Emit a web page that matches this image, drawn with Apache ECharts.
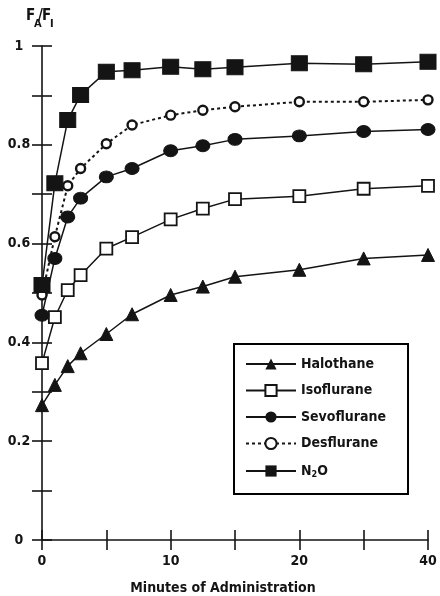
<!DOCTYPE html>
<html>
<head>
<meta charset="utf-8">
<script src="https://cdn.jsdelivr.net/npm/echarts@6/dist/echarts.min.js"></script>
<style>
  html, body { margin: 0; padding: 0; background: #fff; }
  #chart { width: 440px; height: 596px; }
</style>
</head>
<body>
<div id="chart"></div>
<script>
// Uptake of inhaled anaesthetics: alveolar / inspired fraction over time
const minutes     = [0, 1, 2, 3, 5, 7, 10, 12.5, 15, 20, 30, 40];
const halothane   = [0.273, 0.314, 0.352, 0.378, 0.417, 0.457, 0.496, 0.513, 0.533, 0.547, 0.570, 0.577];
const isoflurane  = [0.358, 0.451, 0.506, 0.536, 0.590, 0.613, 0.649, 0.671, 0.690, 0.696, 0.711, 0.717];
const sevoflurane = [0.455, 0.570, 0.654, 0.692, 0.735, 0.752, 0.788, 0.798, 0.811, 0.818, 0.827, 0.831];
const desflurane  = [0.496, 0.614, 0.717, 0.752, 0.802, 0.840, 0.860, 0.870, 0.877, 0.887, 0.887, 0.891];
const nitrousOxide = [0.516, 0.722, 0.850, 0.901, 0.948, 0.951, 0.958, 0.953, 0.957, 0.965, 0.963, 0.968];

const xTickLabels = { 0: '0', 10: '10', 20: '20', 40: '40' };
const yTickLabels = ['0', '0.2', '0.4', '0.6', '0.8', '1'];

// The time axis is linear up to 20 min, then compressed by half from 20 to 40 min.
const toAxis = t => (t <= 20 ? t : 20 + (t - 20) / 2);
const fromAxis = a => (a <= 20 ? a : 20 + (a - 20) * 2);

const FONT = "'Liberation Sans Narrow', 'DejaVu Sans Condensed', 'Liberation Sans', sans-serif";
const INK = '#141414';

const pairs = vals => minutes.map((t, i) => [toAxis(t), vals[i]]);

const xLabel = v => {
  const t = Math.round(fromAxis(v) * 100) / 100;
  return xTickLabels[t] !== undefined ? xTickLabels[t] : '';
};
const yLabel = v => {
  const k = Math.round(v * 10);
  return k % 2 === 0 ? yTickLabels[k / 2] : '';
};

const baseX = {
  type: 'value', min: 0, max: 30, interval: 5,
  splitLine: { show: false },
  axisLine: { lineStyle: { color: INK, width: 1.6 } },
};
const baseY = {
  type: 'value', min: 0, max: 1, interval: 0.1,
  splitLine: { show: false },
  axisLine: { lineStyle: { color: INK, width: 1.6 } },
};

const lineSeries = (name, vals, extra) => Object.assign({
  name, type: 'line', data: pairs(vals),
  xAxisIndex: 0, yAxisIndex: 0,
  lineStyle: { color: INK, width: 1.5 },
  itemStyle: { color: INK, borderColor: INK },
  emphasis: { disabled: true },
  animation: false,
}, extra);

const chart = echarts.init(document.getElementById('chart'), null, { renderer: 'canvas' });

chart.setOption({
  backgroundColor: '#fff',
  animation: false,
  grid: { left: 42, right: 12, top: 46, bottom: 56, containLabel: false, outerBoundsMode: 'none' },
  xAxis: [
    Object.assign({}, baseX, {
      position: 'bottom',
      axisTick: { show: true, inside: false, length: 10, lineStyle: { color: INK, width: 1.6 } },
      axisLabel: {
        formatter: xLabel, margin: 14, color: INK,
        fontFamily: FONT, fontSize: 14, fontWeight: 'bold', showMaxLabel: true,
      },
    }),
    Object.assign({}, baseX, {
      position: 'bottom',
      axisLine: { show: false },
      axisTick: { show: true, inside: true, length: 10, lineStyle: { color: INK, width: 1.6 } },
      axisLabel: { show: false },
    }),
  ],
  yAxis: [
    Object.assign({}, baseY, {
      position: 'left',
      axisTick: { show: true, inside: false, length: 10, lineStyle: { color: INK, width: 1.6 } },
      axisLabel: {
        formatter: yLabel, margin: 23, align: 'center', color: INK,
        fontFamily: FONT, fontSize: 14, fontWeight: 'bold',
      },
    }),
    Object.assign({}, baseY, {
      position: 'left',
      axisLine: { show: false },
      axisTick: { show: true, inside: true, length: 10, lineStyle: { color: INK, width: 1.6 } },
      axisLabel: { show: false },
    }),
  ],
  legend: {
    orient: 'vertical',
    left: 234, top: 344,
    padding: [13, 22, 15, 11],
    itemWidth: 50, itemHeight: 14, itemGap: 12.5,
    borderColor: '#000', borderWidth: 2,
    backgroundColor: '#fff',
    selectedMode: false,
    data: ['Halothane', 'Isoflurane', 'Sevoflurane', 'Desflurane', 'N2O'],
    formatter: n => (n === 'N2O' ? 'N{sub|2}O' : n),
    textStyle: {
      fontFamily: FONT, fontSize: 14, fontWeight: 'bold', color: INK, lineHeight: 14,
      rich: { sub: { fontFamily: FONT, fontSize: 9, fontWeight: 'bold', color: INK, lineHeight: 14, padding: [7, 0, 0, 0] } },
    },
  },
  graphic: [
    { type: 'text', left: 26, top: 9, style: { text: 'F', font: `bold 15px ${FONT}`, fill: INK } },
    { type: 'text', left: 34, top: 19, style: { text: 'A', font: `bold 11px ${FONT}`, fill: INK } },
    { type: 'text', left: 38, top: 9, style: { text: '/', font: `bold 15px ${FONT}`, fill: INK } },
    { type: 'text', left: 42, top: 9, style: { text: 'F', font: `bold 15px ${FONT}`, fill: INK } },
    { type: 'text', left: 50, top: 19, style: { text: 'I', font: `bold 11px ${FONT}`, fill: INK } },
    {
      type: 'text', x: 223, y: 588,
      style: {
        text: 'Minutes of Administration', font: `bold 14px ${FONT}`, fill: INK,
        align: 'center', verticalAlign: 'middle',
      },
    },
  ],
  series: [
    lineSeries('Halothane', halothane, { symbol: 'triangle', symbolSize: 13 }),
    lineSeries('Isoflurane', isoflurane, {
      symbol: 'rect', symbolSize: 12,
      itemStyle: { color: '#fff', borderColor: INK, borderWidth: 1.8 },
    }),
    lineSeries('Sevoflurane', sevoflurane, { symbol: 'circle', symbolSize: [14, 12] }),
    lineSeries('Desflurane', desflurane, {
      symbol: 'circle', symbolSize: 9,
      lineStyle: { color: INK, width: 2, type: [3, 3] },
      itemStyle: { color: '#fff', borderColor: INK, borderWidth: 2.4 },
    }),
    lineSeries('N2O', nitrousOxide, { symbol: 'rect', symbolSize: [16, 15] }),
  ],
});
</script>
</body>
</html>
